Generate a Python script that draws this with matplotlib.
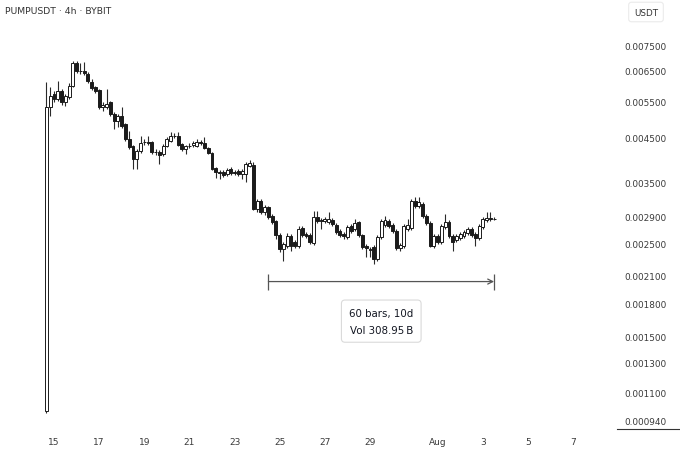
import matplotlib
matplotlib.use("Agg")
import matplotlib.pyplot as plt
import matplotlib.dates as mdates
from matplotlib.ticker import NullLocator, NullFormatter, FixedLocator, FixedFormatter
from matplotlib.lines import Line2D
import pandas as pd
import numpy as np

plt.rcParams['font.family'] = ['DejaVu Sans']

# ---------------- data (4h candles, PUMPUSDT, BYBIT) ----------------
start_time = "2025-07-14 16:00"
opens = [0.000993, 0.005325, 0.005721, 0.005566, 0.005818, 0.005475, 0.005628, 0.005980, 0.006791, 0.006497,
         0.006479, 0.006390, 0.006114, 0.005948, 0.005850, 0.005325, 0.005325, 0.005475, 0.005123, 0.004929,
         0.005067, 0.004848, 0.004462, 0.004293, 0.003995, 0.004176, 0.004389, 0.004389, 0.004389, 0.004153,
         0.004153, 0.004107, 0.004293, 0.004413, 0.004537, 0.004537, 0.004340, 0.004222, 0.004293, 0.004316,
         0.004293, 0.004389, 0.004364, 0.004246, 0.004130, 0.003801, 0.003718, 0.003718, 0.003677, 0.003780,
         0.003718, 0.003739, 0.003677, 0.003677, 0.003844, 0.003865,
         0.003031, 0.003168, 0.002981, 0.003065, 0.002916, 0.002837, 0.002626, 0.002430, 0.002471, 0.002611,
         0.002526, 0.002471, 0.002729, 0.002640, 0.002626, 0.002512, 0.002900, 0.002852, 0.002837, 0.002821,
         0.002852, 0.002775, 0.002684, 0.002640, 0.002597, 0.002760, 0.002714, 0.002821, 0.002626, 0.002471,
         0.002430, 0.002457, 0.002299, 0.002597, 0.002775, 0.002837, 0.002775, 0.002684,
         0.002444, 0.002471, 0.002714, 0.002729, 0.003168, 0.003082,
         0.003116, 0.002916, 0.002806, 0.002471, 0.002611, 0.002526, 0.002744, 0.002821, 0.002611, 0.002554,
         0.002582, 0.002611, 0.002655, 0.002714, 0.002640, 0.002582, 0.002744, 0.002852, 0.002884,
         0.002876]
highs = [0.006114, 0.005948, 0.005818, 0.006148, 0.005882, 0.005721, 0.006080, 0.006866, 0.006866, 0.006791,
         0.006828, 0.006461, 0.006216, 0.005980, 0.005882, 0.005475, 0.005882, 0.005505, 0.005180, 0.005123,
         0.005325, 0.004875, 0.004664, 0.004316, 0.004222, 0.004537, 0.004462, 0.004537, 0.004413, 0.004222,
         0.004199, 0.004340, 0.004512, 0.004638, 0.004613, 0.004638, 0.004364, 0.004316, 0.004364, 0.004413,
         0.004462, 0.004438, 0.004512, 0.004269, 0.004153, 0.003822, 0.003759, 0.003759, 0.003801, 0.003822,
         0.003759, 0.003780, 0.003780, 0.003930, 0.003973, 0.003930,
         0.003203, 0.003203, 0.003099, 0.003082, 0.002948, 0.002852, 0.002655, 0.002526, 0.002655, 0.002640,
         0.002554, 0.002760, 0.002760, 0.002670, 0.002655, 0.002998, 0.002998, 0.002884, 0.002900, 0.002981,
         0.002884, 0.002806, 0.002714, 0.002670, 0.002775, 0.002790, 0.002868, 0.002837, 0.002640, 0.002498,
         0.002457, 0.002484, 0.002626, 0.002868, 0.002916, 0.002868, 0.002806, 0.002714,
         0.002512, 0.002790, 0.002868, 0.003203, 0.003239, 0.003239,
         0.003151, 0.002948, 0.002837, 0.002640, 0.002640, 0.002790, 0.002948, 0.002852, 0.002640, 0.002640,
         0.002670, 0.002699, 0.002744, 0.002744, 0.002670, 0.002790, 0.002900, 0.002981, 0.002981,
         0.002900]
lows = [0.000982, 0.005067, 0.005475, 0.005505, 0.005384, 0.005355, 0.005566, 0.005948, 0.006426, 0.006390,
        0.006355, 0.006080, 0.005850, 0.005753, 0.005266, 0.005209, 0.005266, 0.005067, 0.004716, 0.004769,
        0.004742, 0.004413, 0.004222, 0.003780, 0.003780, 0.004130, 0.004316, 0.004316, 0.004107, 0.004085,
        0.003886, 0.004062, 0.004269, 0.004389, 0.004487, 0.004293, 0.004176, 0.004107, 0.004246, 0.004269,
        0.004269, 0.004316, 0.004222, 0.004107, 0.003759, 0.003597, 0.003577, 0.003617, 0.003637, 0.003657,
        0.003657, 0.003637, 0.003577, 0.003519, 0.003822, 0.003014,
        0.002981, 0.002948, 0.002932, 0.002868, 0.002790, 0.002568, 0.002390, 0.002274, 0.002444, 0.002404,
        0.002444, 0.002444, 0.002597, 0.002582, 0.002498, 0.002484, 0.002806, 0.002714, 0.002806, 0.002790,
        0.002760, 0.002640, 0.002597, 0.002568, 0.002568, 0.002655, 0.002684, 0.002597, 0.002430, 0.002325,
        0.002325, 0.002237, 0.002274, 0.002568, 0.002744, 0.002729, 0.002655, 0.002417,
        0.002404, 0.002444, 0.002684, 0.002699, 0.003048, 0.003048,
        0.002884, 0.002775, 0.002457, 0.002444, 0.002498, 0.002498, 0.002714, 0.002582, 0.002404, 0.002526,
        0.002554, 0.002582, 0.002626, 0.002597, 0.002471, 0.002554, 0.002714, 0.002821, 0.002837,
        0.002852]
closes = [0.005325, 0.005659, 0.005566, 0.005818, 0.005475, 0.005659, 0.005980, 0.006791, 0.006497, 0.006479,
          0.006426, 0.006148, 0.005915, 0.005818, 0.005325, 0.005384, 0.005414, 0.005123, 0.004929, 0.005067,
          0.004795, 0.004462, 0.004269, 0.003995, 0.004176, 0.004364, 0.004377, 0.004364, 0.004153, 0.004142,
          0.004085, 0.004293, 0.004462, 0.004537, 0.004525, 0.004316, 0.004222, 0.004293, 0.004281, 0.004364,
          0.004389, 0.004364, 0.004246, 0.004130, 0.003780, 0.003718, 0.003698, 0.003657, 0.003759, 0.003698,
          0.003698, 0.003677, 0.003739, 0.003886, 0.003908, 0.003031,
          0.003168, 0.002981, 0.003065, 0.002900, 0.002821, 0.002626, 0.002430, 0.002498, 0.002611, 0.002471,
          0.002471, 0.002714, 0.002626, 0.002611, 0.002526, 0.002900, 0.002837, 0.002837, 0.002868, 0.002868,
          0.002790, 0.002670, 0.002626, 0.002611, 0.002744, 0.002684, 0.002806, 0.002626, 0.002457, 0.002444,
          0.002423, 0.002299, 0.002597, 0.002837, 0.002852, 0.002760, 0.002684, 0.002444,
          0.002484, 0.002760, 0.002775, 0.003168, 0.003082, 0.003151,
          0.002916, 0.002806, 0.002471, 0.002611, 0.002526, 0.002760, 0.002821, 0.002611, 0.002526, 0.002611,
          0.002640, 0.002670, 0.002714, 0.002626, 0.002582, 0.002760, 0.002868, 0.002884, 0.002868,
          0.002868]

price_ticks = [0.0075, 0.0065, 0.0055, 0.0045, 0.0035, 0.0029, 0.0025, 0.0021,
               0.0018, 0.0015, 0.0013, 0.0011, 0.00094]
date_ticks = ["2025-07-15", "2025-07-17", "2025-07-19", "2025-07-21", "2025-07-23", "2025-07-25",
              "2025-07-27", "2025-07-29", "2025-08-01", "2025-08-03", "2025-08-05", "2025-08-07"]
date_labels = ["15", "17", "19", "21", "23", "25", "27", "29", "Aug", "3", "5", "7"]

measure_bars = 60
measure_price = 0.00203
measure_text = "60 bars, 10d\nVol 308.95\u2009B"

# ---------------- figure ----------------
W, H = 680, 452
fig = plt.figure(figsize=(W / 100, H / 100), dpi=100)
fig.patch.set_facecolor("white")
ax = fig.add_axes([0, 22 / H, 617 / W, 430 / H])
ax.set_facecolor("white")

times = pd.date_range(start_time, periods=len(opens), freq="4h")
x = mdates.date2num(times.to_pydatetime())
o = np.array(opens); h = np.array(highs); l = np.array(lows); c = np.array(closes)
up = c >= o

bar_w = 0.13  # days
ink = "#1b1b1b"
ax.vlines(x, l, h, color="#2a2a2a", lw=0.8, zorder=2)
bottoms = np.minimum(o, c)
heights = np.maximum(np.abs(c - o), 1e-7)
ax.bar(x[up], heights[up], bottom=bottoms[up], width=bar_w, color="white",
       edgecolor=ink, linewidth=0.7, zorder=3)
ax.bar(x[~up], heights[~up], bottom=bottoms[~up], width=bar_w, color=ink,
       edgecolor=ink, linewidth=0.7, zorder=3)

ax.set_yscale("log")
ax.set_ylim(0.000899, 0.009670)
d15 = mdates.date2num(pd.Timestamp("2025-07-15").to_pydatetime())
ax.set_xlim(d15 - 2.3926, d15 + 24.945)

ax.yaxis.tick_right()
ax.yaxis.set_major_locator(FixedLocator(price_ticks))
ax.yaxis.set_major_formatter(FixedFormatter([f"{p:.6f}" for p in price_ticks]))
ax.yaxis.set_minor_locator(NullLocator())
ax.yaxis.set_minor_formatter(NullFormatter())
ax.tick_params(axis="y", length=0, pad=5.5, labelsize=6.4, labelcolor="#3a3a3a")

xt = mdates.date2num(pd.to_datetime(date_ticks).to_pydatetime())
ax.set_xticks(xt)
ax.set_xticklabels(date_labels)
ax.tick_params(axis="x", length=0, pad=6, labelsize=6.5, labelcolor="#3a3a3a")

for s in ax.spines.values():
    s.set_visible(False)

# measure tool
xs, xe = x[len(x) - measure_bars - 1], x[-1]
ax.annotate("", xy=(xe, measure_price), xytext=(xs, measure_price),
            arrowprops=dict(arrowstyle="->", color="#555555", lw=0.9,
                            shrinkA=0, shrinkB=0, mutation_scale=9), zorder=4)
ax.plot([xs, xe], [measure_price, measure_price], ls="none", marker="|",
        ms=12, mew=0.9, color="#555555", zorder=4)
ax.annotate(measure_text, xy=((xs + xe) / 2, measure_price), xytext=(0, -28.5),
            textcoords="offset points", ha="center", va="center", fontsize=7.4,
            color="#131722", linespacing=1.85,
            bbox=dict(boxstyle="round,pad=0.75,rounding_size=0.35", fc="white",
                      ec="#dadada", lw=0.8), zorder=5)

# header text
fig.text(5 / W, 1 - 12 / H, "PUMPUSDT \u00b7 4h \u00b7 BYBIT", ha="left", va="center",
         fontsize=6.7, color="#333333")
fig.text(646 / W, 1 - 13 / H, "USDT", ha="center", va="center", fontsize=6.3,
         color="#333333",
         bbox=dict(boxstyle="round,pad=0.6,rounding_size=0.3", fc="white",
                   ec="#ebebeb", lw=0.8))
fig.add_artist(Line2D([617 / W, 1], [1 - 430 / H, 1 - 430 / H], color="#333333", lw=0.8))

fig.savefig("out.png", dpi=100, facecolor="white")
